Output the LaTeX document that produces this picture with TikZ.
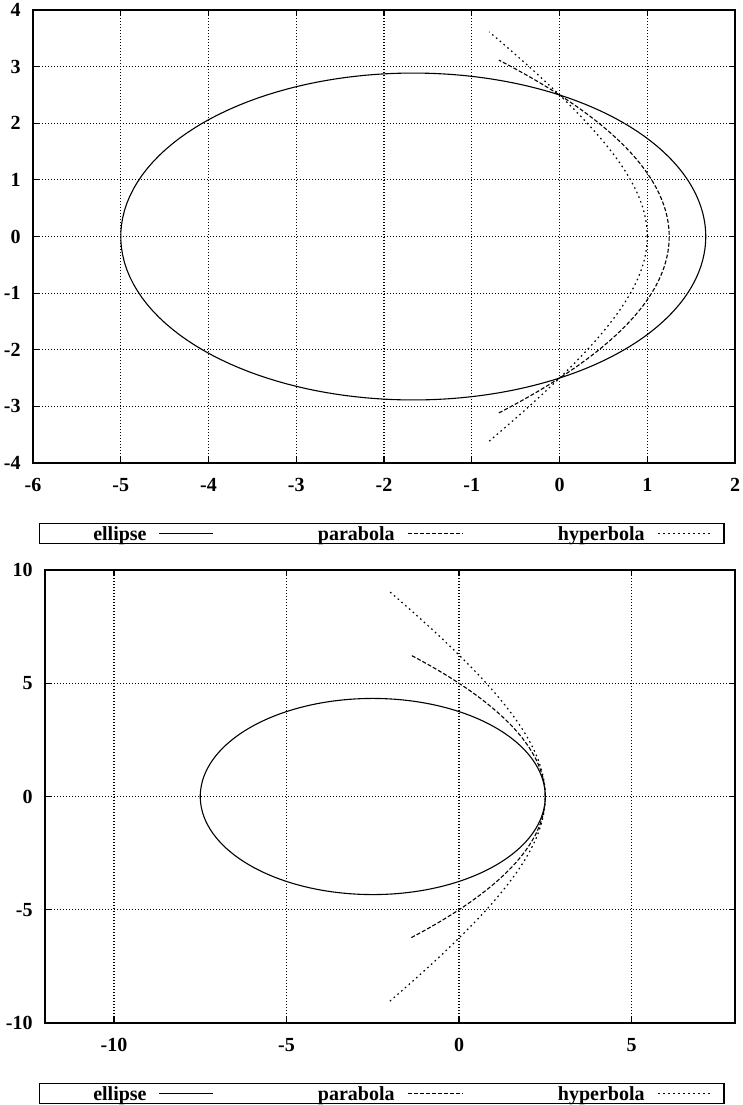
\documentclass[tikz,border=0pt]{standalone}
\usepackage{fontspec}
\setmainfont{Liberation Serif}
\tikzset{
  frameline/.style={line width=0.8pt},
  gridline/.style={line width=0.55pt, dash pattern=on 0.55pt off 0.95pt},
  axtick/.style={line width=0.6pt},
  lbl/.style={font=\bfseries\fontsize{10pt}{12pt}\selectfont, inner sep=0pt},
  ellcurve/.style={line width=0.55pt},
  paracurve/.style={line width=0.55pt, dash pattern=on 2pt off 1pt},
  hypcurve/.style={line width=0.6pt, dash pattern=on 0.8pt off 1.7pt},
  keybox/.style={line width=0.6pt},
}
\begin{document}
\begin{tikzpicture}[x=0.5pt, y=-0.5pt]
\useasboundingbox (0,0) rectangle (743,1105);
% ---------------- top plot ----------------
\begin{scope}[shift={(559.5,236.5)}, x=43.875pt, y=28.3125pt]
  \foreach \i in {-5,...,1} \draw[gridline] (\i,-4) -- (\i,4);
  \foreach \j in {-3,...,3} \draw[gridline] (-6,\j) -- (2,\j);
  \foreach \i in {-6,...,2} {
    \draw[axtick] (\i,-4) -- ++(0,3pt);
    \draw[axtick] (\i,4) -- ++(0,-3pt);
    \path (\i,-4) ++(0,-11pt) node[lbl] (tx\i) {\i};
  }
  \foreach \j in {-4,...,4} {
    \draw[axtick] (-6,\j) -- ++(3pt,0);
    \draw[axtick] (2,\j) -- ++(-3pt,0);
    \path (-6,\j) ++(-6pt,0) node[lbl, anchor=east] (ty\j) {\j};
  }
  \draw[ellcurve] plot[domain=0:360, samples=240, variable=\t]
    ({2.5*cos(\t)/(1+0.5*cos(\t))}, {2.5*sin(\t)/(1+0.5*cos(\t))}) -- cycle;
  \draw[paracurve] plot[domain=-102.5:102.5, samples=200, variable=\t]
    ({2.5*cos(\t)/(1+cos(\t))}, {2.5*sin(\t)/(1+cos(\t))});
  \draw[hypcurve] plot[domain=-102.5:102.5, samples=200, variable=\t]
    ({2.5*cos(\t)/(1+1.5*cos(\t))}, {2.5*sin(\t)/(1+1.5*cos(\t))});
  \draw[frameline] (-6,-4) rectangle (2,4);
\end{scope}
% top legend
\draw[keybox] (39.5,523.5) rectangle (724,543.5);
\node[lbl, anchor=base east] (k1a) at (147,540.5) {ellipse};
\coordinate (k1as) at (159,533.5); \coordinate (k1ae) at (213,533.5);
\draw[ellcurve] (k1as) -- (k1ae);
\node[lbl, anchor=base east] (k1b) at (395,540.5) {parabola};
\coordinate (k1bs) at (408,533.5); \coordinate (k1be) at (463,533.5);
\draw[paracurve] (k1bs) -- (k1be);
\node[lbl, anchor=base east] (k1c) at (645,540.5) {hyperbola};
\coordinate (k1cs) at (658,533.5); \coordinate (k1ce) at (710,533.5);
\draw[hypcurve] (k1cs) -- (k1ce);
% ---------------- bottom plot ----------------
\begin{scope}[shift={(459,796.5)}, x=17.25pt, y=11.325pt]
  \foreach \i in {-10,-5,0,5} \draw[gridline] (\i,-10) -- (\i,10);
  \foreach \j in {-5,0,5} \draw[gridline] (-12,\j) -- (8,\j);
  \foreach \i in {-10,-5,0,5} {
    \draw[axtick] (\i,-10) -- ++(0,3pt);
    \draw[axtick] (\i,10) -- ++(0,-3pt);
    \path (\i,-10) ++(0,-11pt) node[lbl] (bx\i) {\i};
  }
  \foreach \j in {-10,-5,0,5,10} {
    \draw[axtick] (-12,\j) -- ++(3pt,0);
    \draw[axtick] (8,\j) -- ++(-3pt,0);
    \path (-12,\j) ++(-6pt,0) node[lbl, anchor=east] (by\j) {\j};
  }
  \draw[ellcurve] plot[domain=0:360, samples=240, variable=\t]
    ({3.75*cos(\t)/(1+0.5*cos(\t))}, {3.75*sin(\t)/(1+0.5*cos(\t))}) -- cycle;
  \draw[paracurve] plot[domain=-102.5:102.5, samples=200, variable=\t]
    ({5*cos(\t)/(1+cos(\t))}, {5*sin(\t)/(1+cos(\t))});
  \draw[hypcurve] plot[domain=-102.5:102.5, samples=200, variable=\t]
    ({6.25*cos(\t)/(1+1.5*cos(\t))}, {6.25*sin(\t)/(1+1.5*cos(\t))});
  \draw[frameline] (-12,-10) rectangle (8,10);
\end{scope}
% bottom legend
\draw[keybox] (39.5,1083.5) rectangle (724,1103.5);
\node[lbl, anchor=base east] (k2a) at (147,1100.5) {ellipse};
\coordinate (k2as) at (159,1093.5); \coordinate (k2ae) at (213,1093.5);
\draw[ellcurve] (k2as) -- (k2ae);
\node[lbl, anchor=base east] (k2b) at (395,1100.5) {parabola};
\coordinate (k2bs) at (408,1093.5); \coordinate (k2be) at (463,1093.5);
\draw[paracurve] (k2bs) -- (k2be);
\node[lbl, anchor=base east] (k2c) at (645,1100.5) {hyperbola};
\coordinate (k2cs) at (658,1093.5); \coordinate (k2ce) at (710,1093.5);
\draw[hypcurve] (k2cs) -- (k2ce);
\end{tikzpicture}
\end{document}
